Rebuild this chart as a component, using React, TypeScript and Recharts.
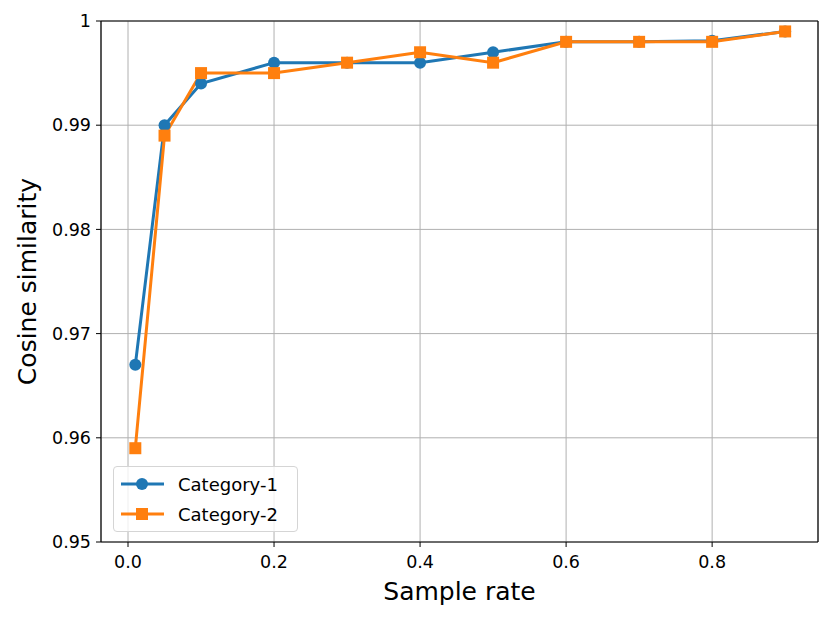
import {
  LineChart,
  Line,
  XAxis,
  YAxis,
  CartesianGrid,
  ReferenceLine,
} from "recharts";

const rates = [0.01, 0.05, 0.1, 0.2, 0.3, 0.4, 0.5, 0.6, 0.7, 0.8, 0.9];
const category1 = [0.967, 0.99, 0.994, 0.996, 0.996, 0.996, 0.997, 0.998, 0.998, 0.9981, 0.999];
const category2 = [0.959, 0.989, 0.995, 0.995, 0.996, 0.997, 0.996, 0.998, 0.998, 0.998, 0.999];
const xTicks = [0, 0.2, 0.4, 0.6, 0.8];
const yTicks = [0.95, 0.96, 0.97, 0.98, 0.99, 1];

const BLUE = "#1f77b4";
const ORANGE = "#ff7f0e";
const FONT = "DejaVu Sans, sans-serif";

const X_MIN = -0.037;
const X_MAX = 0.945;

const data = rates.map((r, i) => ({ rate: r, c1: category1[i], c2: category2[i] }));

function SquareDot(props: any) {
  const { cx, cy } = props;
  if (cx == null || cy == null) return null;
  return <rect x={cx - 6} y={cy - 6} width={12} height={12} fill={ORANGE} />;
}

// matplotlib-style legend box, placed over the lower-left of the plot
function LegendBox() {
  const rows = [
    { name: "Category-1", color: BLUE, shape: "circle" },
    { name: "Category-2", color: ORANGE, shape: "square" },
  ];
  return (
    <div
      style={{
        position: "absolute",
        left: 113,
        top: 466,
        width: 185,
        height: 66,
        border: "1px solid #d5d5d5",
        borderRadius: 4,
        background: "rgba(255,255,255,0.8)",
        fontFamily: FONT,
        fontSize: 18,
        boxSizing: "border-box",
        paddingTop: 2,
      }}
    >
      {rows.map((r) => (
        <div key={r.name} style={{ display: "flex", alignItems: "center", height: 30 }}>
          <svg width={58} height={20} style={{ marginLeft: 6 }}>
            <line x1={1} y1={10} x2={44} y2={10} stroke={r.color} strokeWidth={3} />
            {r.shape === "circle" ? (
              <circle cx={22} cy={10} r={6} fill={r.color} />
            ) : (
              <rect x={16} y={4} width={12} height={12} fill={r.color} />
            )}
          </svg>
          <span style={{ color: "#000" }}>{r.name}</span>
        </div>
      ))}
    </div>
  );
}

export default function App() {
  return (
    <div style={{ position: "absolute", left: 0, top: 0, width: 831, height: 620, background: "#fff" }}>
      <LineChart
        width={831}
        height={620}
        data={data}
        margin={{ top: 21, right: 13, left: 0, bottom: 0 }}
      >
        <CartesianGrid stroke="#b0b0b0" strokeWidth={1} />
        <XAxis
          dataKey="rate"
          type="number"
          domain={[X_MIN, X_MAX]}
          ticks={xTicks}
          allowDataOverflow
          height={78}
          tickFormatter={(v) => Number(v).toFixed(1)}
          tick={{ fill: "#000", fontSize: 17.5, fontFamily: FONT }}
          tickLine={{ stroke: "#000" }}
          tickSize={5}
          tickMargin={9}
          axisLine={{ stroke: "#000", strokeWidth: 1.2 }}
          label={{
            value: "Sample rate",
            position: "insideBottom",
            offset: 20,
            fill: "#000",
            fontSize: 25,
            fontFamily: FONT,
          }}
        />
        <YAxis
          type="number"
          domain={[0.95, 1]}
          ticks={yTicks}
          allowDataOverflow
          width={101}
          tickFormatter={(v) => (Number(v) === 1 ? "1" : Number(v).toFixed(2))}
          tick={{ fill: "#000", fontSize: 17.5, fontFamily: FONT }}
          tickLine={{ stroke: "#000" }}
          tickSize={5}
          tickMargin={5}
          axisLine={{ stroke: "#000", strokeWidth: 1.2 }}
          label={{
            value: "Cosine similarity",
            angle: -90,
            position: "insideLeft",
            offset: 27,
            fill: "#000",
            fontSize: 25,
            fontFamily: FONT,
            style: { textAnchor: "middle" },
          }}
        />
        <ReferenceLine y={1} stroke="#000" strokeWidth={1.2} />
        <ReferenceLine x={X_MAX} stroke="#000" strokeWidth={1.2} />
        <Line
          dataKey="c1"
          name="Category-1"
          stroke={BLUE}
          strokeWidth={3}
          dot={{ r: 6, fill: BLUE, stroke: BLUE, strokeWidth: 0 }}
          activeDot={false}
          isAnimationActive={false}
        />
        <Line
          dataKey="c2"
          name="Category-2"
          stroke={ORANGE}
          strokeWidth={3}
          dot={<SquareDot />}
          activeDot={false}
          isAnimationActive={false}
        />
      </LineChart>
      <LegendBox />
    </div>
  );
}
